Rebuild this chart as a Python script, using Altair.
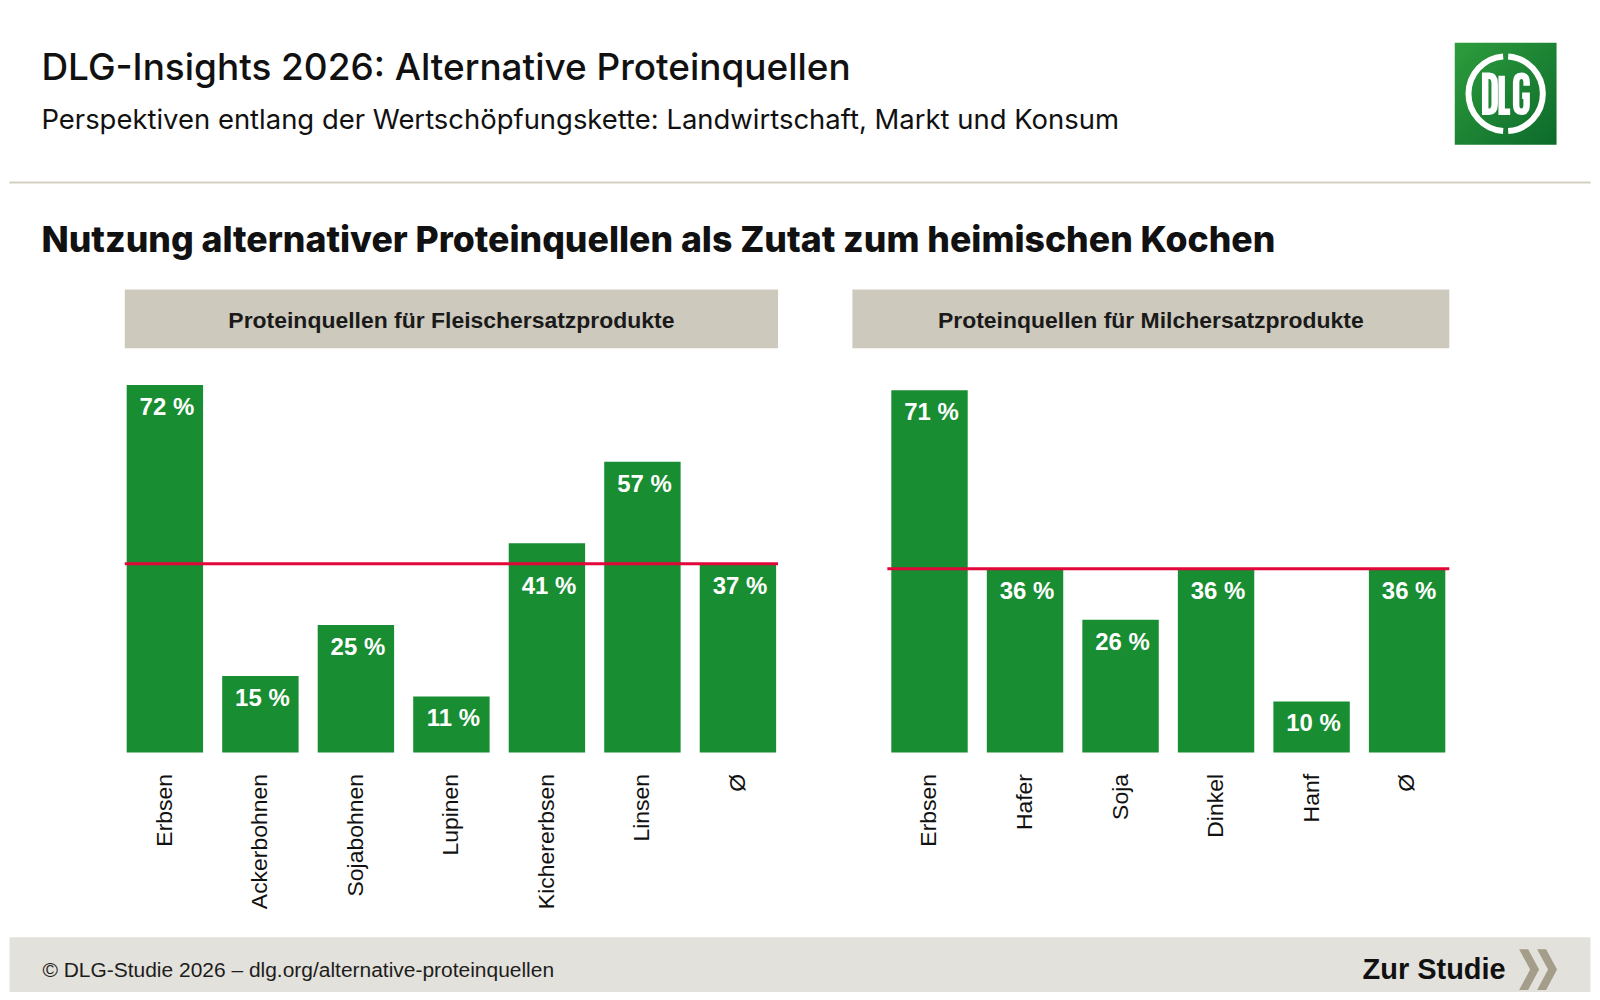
import altair as alt
import pandas as pd

# ---------------- data ----------------
cats_meat = ["Erbsen", "Ackerbohnen", "Sojabohnen", "Lupinen", "Kichererbsen", "Linsen", "Ø"]
vals_meat = [72, 15, 25, 11, 41, 57, 37]
avg_meat = [37]

cats_milk = ["Erbsen", "Hafer", "Soja", "Dinkel", "Hanf", "Ø"]
vals_milk = [71, 36, 26, 36, 10, 36]
avg_milk = [36]

title_txt = "DLG-Insights 2026: Alternative Proteinquellen"
subtitle_txt = "Perspektiven entlang der Wertschöpfungskette: Landwirtschaft, Markt und Konsum"
heading_txt = "Nutzung alternativer Proteinquellen als Zutat zum heimischen Kochen"
panel_titles = ["Proteinquellen für Fleischersatzprodukte", "Proteinquellen für Milchersatzprodukte"]
footer_left_txt = "© DLG-Studie 2026 – dlg.org/alternative-proteinquellen"
footer_right_txt = "Zur Studie"

# ---------------- style / layout ----------------
GREEN = "#188d32"
RED = "#e3063a"
BEIGE = "#cdc9bc"
FOOT = "#e3e1dc"
SEP = "#d3d0c6"
CHEV = "#a39d89"
SANS = "Liberation Sans, Arial, Helvetica, sans-serif"
GEO = "Inter, Lato, sans-serif"

OX, OY = 123.5, 343.0          # page position of left plot origin
H = 409
Y_MAX = 80
W_L, W_R = 654.5, 563
GAP = 109


def rx(px):
    return px - OX


def ry(py):
    return py - OY


one = pd.DataFrame({"a": [0]})


def panel(cats, vals, avg, width, pad_outer, head_x0, head_x1, head_title):
    a = avg[0]
    # label anchor: labels whose bar top is just above the average line go below it
    anchor = [a if 0 < v - a < 8 else v for v in vals]
    df = pd.DataFrame({"cat": cats, "v": vals, "ly": anchor,
                       "lab": [f"{v} %" for v in vals]})
    xenc = alt.X(
        "cat:N",
        sort=cats,
        scale=alt.Scale(paddingInner=0.2, paddingOuter=pad_outer),
        axis=alt.Axis(
            title=None, labelAngle=270, ticks=False, domain=False, grid=False,
            labelPadding=21, labelFontSize=23, labelFont=SANS, labelColor="#111111",
            labelLimit=300, zindex=2,
        ),
    )
    yenc = alt.Y("v:Q", scale=alt.Scale(domain=[0, Y_MAX]), axis=None)
    header = alt.Chart(one).mark_rect(color=BEIGE).encode(
        x=alt.value(head_x0), x2=alt.value(head_x1),
        y=alt.value(ry(288)), y2=alt.value(ry(347)),
    )
    header_text = alt.Chart(one).mark_text(
        text=head_title, font=SANS, fontSize=23, fontWeight="bold", color="#1a1a1a",
        align="center", baseline="alphabetic",
    ).encode(x=alt.value((head_x0 + head_x1) / 2), y=alt.value(ry(327)))
    bars = alt.Chart(df).mark_bar(color=GREEN).encode(x=xenc, y=yenc)
    rule = alt.Chart(pd.DataFrame({"v": avg})).mark_rule(color=RED, strokeWidth=3).encode(
        y=alt.Y("v:Q")
    )
    labels = alt.Chart(df).mark_text(
        font=SANS, fontSize=24, fontWeight="bold", color="white",
        align="center", baseline="alphabetic", dy=30, dx=2,
    ).encode(x=alt.X("cat:N", sort=cats), y=alt.Y("ly:Q"), text="lab:N")
    return [header, header_text, bars, rule, labels]


# ---------------- page decorations (in left panel coordinates) ----------------
background = alt.Chart(one).mark_rect(color="white").encode(
    x=alt.value(rx(8)), x2=alt.value(rx(1592)), y=alt.value(ry(8)), y2=alt.value(ry(992))
)
title = alt.Chart(one).mark_text(
    text=title_txt, font=GEO, fontSize=37, fontWeight=500, color="#111111",
    align="left", baseline="alphabetic",
).encode(x=alt.value(rx(40)), y=alt.value(ry(78)))
subtitle = alt.Chart(one).mark_text(
    text=subtitle_txt, font=GEO, fontSize=27.5, fontWeight="normal", color="#111111",
    align="left", baseline="alphabetic",
).encode(x=alt.value(rx(40)), y=alt.value(ry(127)))
separator = alt.Chart(one).mark_rule(color=SEP, strokeWidth=2).encode(
    x=alt.value(rx(8)), x2=alt.value(rx(1592)), y=alt.value(ry(181))
)
heading = alt.Chart(one).mark_text(
    text=heading_txt, font=GEO, fontSize=35.7, fontWeight=800, color="#111111",
    align="left", baseline="alphabetic",
).encode(x=alt.value(rx(40)), y=alt.value(ry(251)))

# logo
LCX, LCY = 1507, 92
logo_box = alt.Chart(one).mark_rect(
    color=alt.Gradient(
        gradient="linear", x1=0, y1=0, x2=1, y2=1,
        stops=[alt.GradientStop(color="#2e9d3d", offset=0),
               alt.GradientStop(color="#0c6a2b", offset=1)],
    )
).encode(
    x=alt.value(rx(LCX - 51)), x2=alt.value(rx(LCX + 51)),
    y=alt.value(ry(LCY - 51)), y2=alt.value(ry(LCY + 51)),
)
ring_path = ("M 2.5,-37.4 A 37.5,37.5 0 0 1 2.5,37.4 "
             "M -2.5,37.4 A 37.5,37.5 0 0 1 -2.5,-37.4")
logo_ring = alt.Chart(one).mark_point(
    shape=ring_path, size=4, filled=False, stroke="white", strokeWidth=6, opacity=1
).encode(x=alt.value(rx(LCX)), y=alt.value(ry(LCY)))
letters_path = (
    "M -20.5,-18 L -20.5,18 L -16.5,18 Q -11,18 -11,10 L -11,-10 Q -11,-18 -16.5,-18 Z "
    "M -4,-18 L -4,18 L 4.5,18 "
    "M 21,-8 L 21,-11 Q 21,-18 15.75,-18 Q 10.5,-18 10.5,-11 L 10.5,11 "
    "Q 10.5,18 15.75,18 Q 21,18 21,11 L 21,2 L 16.5,2"
)
logo_letters = alt.Chart(one).mark_point(
    shape=letters_path, size=4, filled=False, stroke="white", strokeWidth=6.5, opacity=1
).encode(x=alt.value(rx(LCX)), y=alt.value(ry(LCY)))

# footer
footer_band = alt.Chart(one).mark_rect(color=FOOT).encode(
    x=alt.value(rx(8)), x2=alt.value(rx(1592)), y=alt.value(ry(937)), y2=alt.value(ry(992))
)
footer_left = alt.Chart(one).mark_text(
    text=footer_left_txt, font=SANS, fontSize=21, color="#1d1d1b",
    align="left", baseline="alphabetic",
).encode(x=alt.value(rx(41)), y=alt.value(ry(976.5)))
footer_right = alt.Chart(one).mark_text(
    text=footer_right_txt, font=SANS, fontSize=29, fontWeight="bold", color="#111111",
    align="right", baseline="alphabetic",
).encode(x=alt.value(rx(1507)), y=alt.value(ry(978.5)))
chev_path = ("M -19,-20.5 L -10,-20.5 L 1,0 L -10,20.5 L -19,20.5 L -8,0 Z "
             "M -1,-20.5 L 8,-20.5 L 19,0 L 8,20.5 L -1,20.5 L 10,0 Z")
chevrons = alt.Chart(one).mark_point(
    shape=chev_path, size=4, filled=True, fill=CHEV, strokeWidth=0, opacity=1
).encode(x=alt.value(rx(1539.5)), y=alt.value(ry(969.5)))

left_layers = [background, title, subtitle, separator, heading,
               logo_box, logo_ring, logo_letters,
               footer_band, footer_left, footer_right, chevrons]
left_layers += panel(cats_meat, vals_meat, avg_meat, W_L, 0.02, 0, W_L, panel_titles[0])
left = alt.layer(*left_layers).properties(width=W_L, height=H)

right_layers = panel(cats_milk, vals_milk, avg_milk, W_R, 0.0415, 852 - 887, W_R, panel_titles[1])
right = alt.layer(*right_layers).properties(width=W_R, height=H)

chart = alt.hconcat(left, right, spacing=GAP, bounds="flush").properties(
    padding=0
).configure_view(stroke="transparent")

chart.save("out.html", embed_options={"renderer": "svg", "actions": False})
